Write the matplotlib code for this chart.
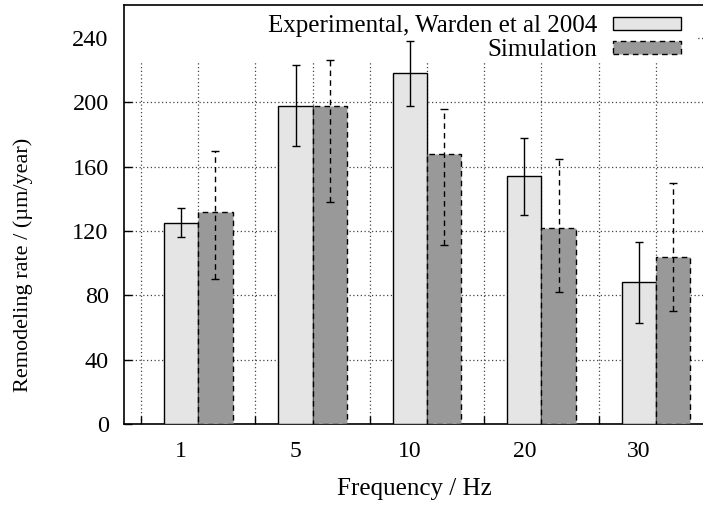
import numpy as np
import matplotlib
matplotlib.use('Agg')
import matplotlib.pyplot as plt
from matplotlib.patches import Rectangle

plt.rcParams['font.family'] = ['Liberation Serif', 'DejaVu Serif']
plt.rcParams['font.size'] = 16

# Data
freqs = ['1', '5', '10', '20', '30']
exp_val = [125, 198, 218, 154, 88]
exp_low = [116, 173, 198, 130, 63]
exp_high = [134, 223, 238, 178, 113]
sim_val = [132, 198, 168, 122, 104]
sim_low = [90, 138, 111, 82, 70]
sim_high = [170, 226, 196, 165, 150]

x = np.arange(len(freqs))
w = 0.3
light = '#e5e5e5'
dark = '#999999'

fig = plt.figure(figsize=(7.03, 5.07), dpi=100)
ax = fig.add_axes([124/703, 83/507, 1 - 124/703 + 0.003, 419/507])

exp_err = [np.array(exp_val) - np.array(exp_low), np.array(exp_high) - np.array(exp_val)]
sim_err = [np.array(sim_val) - np.array(sim_low), np.array(sim_high) - np.array(sim_val)]

ax.bar(x - w/2, exp_val, w, color=light, edgecolor='black', linewidth=1.0,
       label='Experimental, Warden et al 2004', zorder=3)
ax.bar(x + w/2, sim_val, w, color=dark, edgecolor='black', linewidth=1.0,
       linestyle=(0, (4, 3)), label='Simulation', zorder=3)

ax.errorbar(x - w/2, exp_val, yerr=exp_err, fmt='none', ecolor='black',
            elinewidth=1.0, capsize=3, capthick=1.0, zorder=4)
eb = ax.errorbar(x + w/2, sim_val, yerr=sim_err, fmt='none', ecolor='black',
                 elinewidth=1.0, capsize=3, capthick=1.0, zorder=4)
eb[2][0].set_linestyle((0, (4, 3)))

ax.set_ylim(0, 260.5)
ax.set_xlim(-0.649, 4.43)
ax.set_yticks(np.arange(0, 241, 40))
ax.set_xticks(np.arange(-0.5, 4.01, 0.5))
ax.set_xticklabels([])
ax.set_xticks(x - w/2, minor=True)
ax.set_xticklabels(freqs, minor=True)
ax.tick_params(axis='x', which='minor', length=0, pad=12, labelsize=17)
ax.tick_params(axis='both', which='major', direction='in', length=6,
               top=True, right=False, width=1.0)
ax.tick_params(axis='y', pad=11, labelsize=17.5)

ax.grid(True, which='major', linestyle=(0, (1, 2)), color='#444444',
        linewidth=0.9, zorder=0)
ax.set_axisbelow(True)

# opaque key area
ax.add_patch(Rectangle((0, (424 - 62) / 419), 0.985, 1, transform=ax.transAxes,
                       facecolor='white', edgecolor='none', zorder=1))

for s in ['left', 'bottom', 'top']:
    ax.spines[s].set_linewidth(1.2)
ax.spines['right'].set_visible(False)

ax.set_xlabel('Frequency / Hz', labelpad=12, fontsize=18)
ax.set_ylabel('Remodeling rate / (µm/year)', fontsize=16)
ax.yaxis.set_label_coords(-0.157, 0.379)

leg = ax.legend(loc='upper right', bbox_to_anchor=(0.984, 1.012), frameon=False,
                markerfirst=False, handlelength=2.7, handleheight=0.42,
                handletextpad=0.65, labelspacing=0.1, borderaxespad=0.2,
                fontsize=18)
leg.set_zorder(5)

fig.savefig('out.png', dpi=100)
